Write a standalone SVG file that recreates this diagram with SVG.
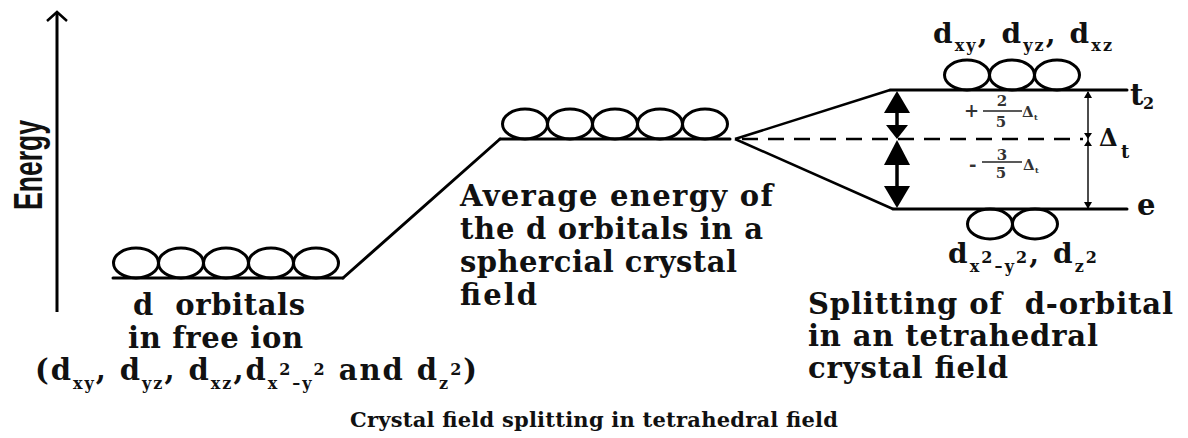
<svg xmlns="http://www.w3.org/2000/svg" width="1188" height="438" viewBox="0 0 1188 438">
<style>
.lvl{stroke:#000;stroke-width:3;fill:none;stroke-linecap:round}
.orb{stroke:#000;stroke-width:3;fill:none}
.ln{stroke:#000;stroke-width:2.5;fill:none}
.head{fill:#000;stroke:none}
.t{font-family:"DejaVu Serif","Liberation Serif",serif;font-weight:bold;font-size:29px;fill:#111}
.sub{font-size:16px}
.lab{font-size:28px}
.sm{font-family:"DejaVu Serif","Liberation Serif",serif;font-weight:bold;font-size:15px;fill:#333}
.cap{font-size:21px}
</style>
<rect width="1188" height="438" fill="#fff"/>

<g id="energy-axis">
<line x1="57" y1="13" x2="57" y2="312" class="ln" style="stroke-width:3"/>
<polyline points="47,21 57,12 67,21" class="ln"/>
<text transform="translate(42,165) rotate(-90)" text-anchor="middle" font-family="Liberation Sans, sans-serif" font-weight="bold" font-size="40" fill="#111" textLength="90" lengthAdjust="spacingAndGlyphs">Energy</text>
</g>

<g id="free-ion">
<line x1="113" y1="278" x2="343" y2="278" class="lvl"/>
<ellipse cx="136" cy="263" rx="22.5" ry="15" class="orb"/>
<ellipse cx="181" cy="263" rx="22.5" ry="15" class="orb"/>
<ellipse cx="226" cy="263" rx="22.5" ry="15" class="orb"/>
<ellipse cx="271" cy="263" rx="22.5" ry="15" class="orb"/>
<ellipse cx="316" cy="263" rx="22.5" ry="15" class="orb"/>
<text class="t" x="133" y="315" textLength="172" xml:space="preserve">d  orbitals</text>
<text class="t" x="128" y="348" textLength="175">in free ion</text>
<text class="t" x="35" y="380" textLength="442">(d<tspan class="sub" dy="9">xy</tspan><tspan dy="-9">, d</tspan><tspan class="sub" dy="9">yz</tspan><tspan dy="-9">, d</tspan><tspan class="sub" dy="9">xz</tspan><tspan dy="-9">,d</tspan><tspan class="sub" dy="9">x</tspan><tspan class="sub" dy="-14">2</tspan><tspan class="sub" dy="14">–y</tspan><tspan class="sub" dy="-14">2</tspan><tspan dy="5"> and d</tspan><tspan class="sub" dy="9">z</tspan><tspan class="sub" dy="-14">2</tspan><tspan dy="5">)</tspan></text>
</g>

<g id="spherical-field">
<line x1="500" y1="139" x2="730" y2="139" class="lvl"/>
<ellipse cx="525" cy="124" rx="22.5" ry="15" class="orb"/>
<ellipse cx="570" cy="124" rx="22.5" ry="15" class="orb"/>
<ellipse cx="615" cy="124" rx="22.5" ry="15" class="orb"/>
<ellipse cx="660" cy="124" rx="22.5" ry="15" class="orb"/>
<ellipse cx="705" cy="124" rx="22.5" ry="15" class="orb"/>
<text class="t" x="460" y="206" textLength="313">Average energy of</text>
<text class="t" x="460" y="239" textLength="303">the d orbitals in a</text>
<text class="t" x="460" y="272" textLength="277">sphercial crystal</text>
<text class="t" x="460" y="305" textLength="77">field</text>
</g>

<g id="t2-level">
<line x1="890" y1="90" x2="1127" y2="90" class="lvl"/>
<ellipse cx="967" cy="75" rx="22.5" ry="15" class="orb"/>
<ellipse cx="1012" cy="75" rx="22.5" ry="15" class="orb"/>
<ellipse cx="1057" cy="75" rx="22.5" ry="15" class="orb"/>
<text class="t lab" x="933" y="43" textLength="179">d<tspan class="sub" dy="8">xy</tspan><tspan dy="-8">, d</tspan><tspan class="sub" dy="8">yz</tspan><tspan dy="-8">, d</tspan><tspan class="sub" dy="8">xz</tspan></text>
<text class="t" x="1130" y="105">t</text>
<text class="t sub" x="1143" y="109">2</text>
</g>

<g id="e-level">
<line x1="893" y1="209" x2="1127" y2="209" class="lvl"/>
<ellipse cx="990" cy="224" rx="22.5" ry="15" class="orb"/>
<ellipse cx="1035" cy="224" rx="22.5" ry="15" class="orb"/>
<text class="t lab" x="948" y="263" textLength="149">d<tspan class="sub" dy="9">x</tspan><tspan class="sub" dy="-9">2</tspan><tspan class="sub" dy="9">–y</tspan><tspan class="sub" dy="-9">2</tspan><tspan>, d</tspan><tspan class="sub" dy="9">z</tspan><tspan class="sub" dy="-9">2</tspan></text>
<text class="t" x="1137" y="215">e</text>
</g>

<g id="splitting-label">
<text class="t" x="808" y="314" textLength="365" xml:space="preserve">Splitting of  d-orbital</text>
<text class="t" x="808" y="346" textLength="290">in an tetrahedral</text>
<text class="t" x="808" y="378" textLength="200">crystal field</text>
</g>

<g id="delta-labels">
<text class="sm" x="964" y="117" style="font-size:18px">+</text>
<line x1="983" y1="111" x2="1022" y2="111" stroke="#222" stroke-width="1.6"/>
<text class="sm" x="1002" y="106" text-anchor="middle">2</text>
<text class="sm" x="1001" y="127" text-anchor="middle">5</text>
<text class="sm" x="1022" y="117">Δ</text>
<text class="sm" x="1034" y="120" style="font-size:8px">t</text>
<text class="sm" x="969" y="171" style="font-size:18px">-</text>
<line x1="982" y1="162" x2="1022" y2="162" stroke="#222" stroke-width="1.6"/>
<text class="sm" x="1002" y="160" text-anchor="middle">3</text>
<text class="sm" x="1001" y="178" text-anchor="middle">5</text>
<text class="sm" x="1023" y="170">Δ</text>
<text class="sm" x="1035" y="173" style="font-size:8px">t</text>
<text class="t" x="1099" y="146" style="font-size:24px">Δ</text>
<text class="t" x="1121" y="158" style="font-size:18px">t</text>
</g>

<g id="connectors">
<line x1="343" y1="278" x2="500" y2="139" class="lvl"/>
<line x1="735" y1="139" x2="890" y2="90" class="ln"/>
<line x1="735" y1="139" x2="893" y2="209" class="ln"/>
<line x1="742" y1="139" x2="1083" y2="139" class="ln" stroke-dasharray="16 10"/>
<line x1="897" y1="105" x2="897" y2="130" stroke="#000" stroke-width="3.5"/>
<polygon points="897,91 884,113 910,113" class="head"/>
<polygon points="897,139 886,125 908,125" class="head"/>
<polygon points="897,140 884,165 910,165" class="head"/>
<line x1="897" y1="160" x2="897" y2="195" stroke="#000" stroke-width="3.5"/>
<polygon points="897,208 884,186 910,186" class="head"/>
<line x1="1088" y1="92" x2="1088" y2="208" stroke="#111" stroke-width="1.5"/>
<polygon points="1088,91 1084,98 1092,98" class="head"/>
<polygon points="1088,209 1084,202 1092,202" class="head"/>
<polygon points="1088,139 1084,133 1092,133" class="head"/>
<polygon points="1088,140 1084,146 1092,146" class="head"/>
</g>

<g id="caption">
<text class="t cap" x="350" y="427" textLength="488">Crystal field splitting in tetrahedral field</text>
</g>
</svg>
